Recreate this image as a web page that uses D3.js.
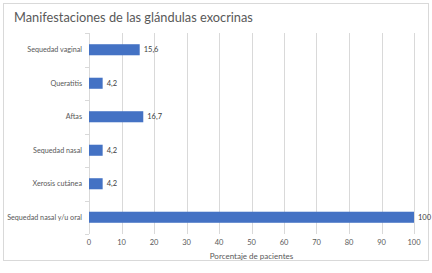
<!DOCTYPE html>
<html>
<head>
<meta charset="utf-8">
<script src="https://cdn.jsdelivr.net/npm/d3@7"></script>
<style>
  body { margin: 0; background: #fff; }
  text { font-family: Lato, "Open Sans", sans-serif; }
</style>
</head>
<body>
<div id="chart"></div>
<script>
var categories = ["Sequedad vaginal", "Queratitis", "Aftas", "Sequedad nasal", "Xerosis cutánea", "Sequedad nasal y/u oral"];
var values = [15.6, 4.2, 16.7, 4.2, 4.2, 100];
var valueLabels = ["15,6", "4,2", "16,7", "4,2", "4,2", "100"];
var xTicks = [0, 10, 20, 30, 40, 50, 60, 70, 80, 90, 100];

var W = 432, H = 273;
var margin = { top: 33, right: 18, bottom: 39, left: 89 };

var svg = d3.select("#chart").append("svg")
    .attr("width", W).attr("height", H);

// outer frame
svg.append("rect")
    .attr("x", 3.5).attr("y", 3.5)
    .attr("width", 425).attr("height", 257)
    .attr("fill", "#fff").attr("stroke", "#d9d9d9");

var x = d3.scaleLinear().domain([0, 100]).range([margin.left, W - margin.right]);
var y = d3.scaleBand().domain(categories)
    .range([margin.top, H - margin.bottom])
    .paddingInner(0.67).paddingOuter(0.335);

// gridlines
svg.append("g").selectAll("line")
    .data(xTicks).enter().append("line")
    .attr("x1", d => Math.round(x(d)) + 0.5).attr("x2", d => Math.round(x(d)) + 0.5)
    .attr("y1", margin.top).attr("y2", H - margin.bottom)
    .attr("stroke", "#d9d9d9");

// category tick marks
var bounds = d3.range(categories.length + 1).map(i => margin.top + i * (H - margin.bottom - margin.top) / categories.length);
svg.append("g").selectAll("line")
    .data(bounds).enter().append("line")
    .attr("x1", x(0) - 4).attr("x2", x(0))
    .attr("y1", d => Math.round(d) + 0.5).attr("y2", d => Math.round(d) + 0.5)
    .attr("stroke", "#d9d9d9");

// bars
svg.append("g").selectAll("rect")
    .data(values).enter().append("rect")
    .attr("x", x(0))
    .attr("y", (d, i) => y(categories[i]))
    .attr("width", d => x(d) - x(0))
    .attr("height", y.bandwidth())
    .attr("fill", "#4472c4");

// value labels
svg.append("g").selectAll("text")
    .data(values).enter().append("text")
    .attr("x", d => x(d) + 4)
    .attr("y", (d, i) => y(categories[i]) + y.bandwidth() / 2)
    .attr("dy", "0.35em")
    .attr("font-size", 7.5).attr("fill", "#404040")
    .text((d, i) => valueLabels[i]);

// category labels
svg.append("g").selectAll("text")
    .data(categories).enter().append("text")
    .attr("x", x(0) - 7)
    .attr("y", d => y(d) + y.bandwidth() / 2)
    .attr("dy", "0.35em")
    .attr("text-anchor", "end")
    .attr("font-size", 7.2).attr("fill", "#595959")
    .text(d => d);

// x tick labels
svg.append("g").selectAll("text")
    .data(xTicks).enter().append("text")
    .attr("x", d => x(d))
    .attr("y", 245)
    .attr("text-anchor", "middle")
    .attr("font-size", 7.5).attr("fill", "#595959")
    .text(d => d);

// axis title
svg.append("text")
    .attr("x", (x(0) + x(100)) / 2).attr("y", 259)
    .attr("text-anchor", "middle")
    .attr("font-size", 8).attr("fill", "#595959")
    .text("Porcentaje de pacientes");

// chart title
svg.append("text")
    .attr("x", 14).attr("y", 22)
    .attr("font-size", 12.8).attr("fill", "#595959")
    .text("Manifestaciones de las glándulas exocrinas");
</script>
</body>
</html>
